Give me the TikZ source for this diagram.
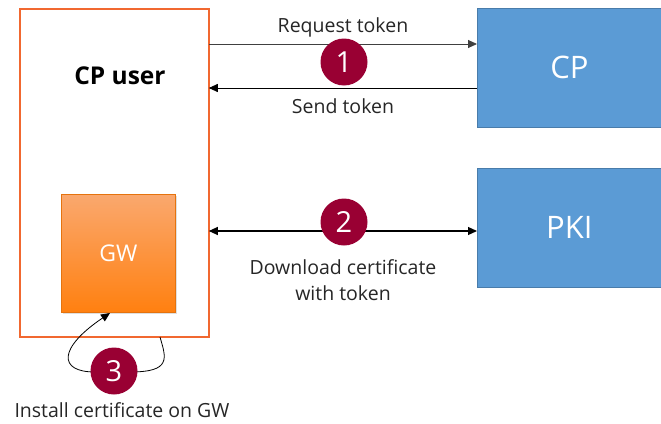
\documentclass[tikz,border=0pt]{standalone}
\usepackage{fontspec}
\setmainfont{Open Sans}
\usetikzlibrary{arrows.meta,shadows}
\definecolor{cpOrange}{RGB}{241,104,48}
\definecolor{gwTop}{RGB}{250,168,110}
\definecolor{gwBot}{RGB}{255,128,16}
\definecolor{cpBlue}{RGB}{91,155,213}
\definecolor{stepRed}{RGB}{153,0,51}
\definecolor{txt}{RGB}{38,38,38}
\tikzset{
  bluebox/.style={draw=cpBlue!80!black, line width=0.8pt, fill=cpBlue, minimum width=184pt, minimum height=119pt, text=white, font=\fontsize{31}{33}\selectfont},
  stepmark/.style={circle, fill=stepRed, minimum size=47pt, inner sep=0pt, text=white, font=\fontsize{29}{30}\selectfont},
  lbl/.style={text=txt, font=\fontsize{19.5}{26}\selectfont, align=center},
  flow/.style={line width=0.9pt, -{Triangle[length=9pt,width=8pt]}},
}
\begin{document}
\begin{tikzpicture}[x=1pt,y=-1pt]
\useasboundingbox (0,0) rectangle (661,423);
% CP user frame
\node[draw=cpOrange, line width=1.6pt, minimum width=189pt, minimum height=328pt, anchor=north west, inner sep=0pt] (user) at (19,8) {};
\node[font=\bfseries\fontsize{24.5}{28}\selectfont, text=black] (usertitle) at (120,76) {CP user};
% GW box
\node[draw=gwBot!90!black, line width=0.6pt, top color=gwTop, bottom color=gwBot, minimum width=114pt, minimum height=118pt, anchor=north west, inner sep=0pt, text=white, font=\fontsize{23}{26}\selectfont, drop shadow={opacity=0.25, shadow xshift=1.5pt, shadow yshift=-2pt}] (gw) at (61,194) {GW};
% CP and PKI
\node[bluebox, anchor=north west] (cp) at (477,8) {CP};
\node[bluebox, anchor=north west] (pki) at (477,168) {PKI};
% Step 1
\coordinate (r1a) at (208.8,44);
\coordinate (r1b) at (477,44);
\coordinate (s1a) at (477,88);
\coordinate (s1b) at (208.8,88);
\draw[flow, draw=black!75] (r1a) -- (r1b);
\draw[flow] (s1a) -- (s1b);
\node[lbl] (req) at (343,27) {Request token};
\node[lbl] (send) at (343,106) {Send token};
\node[stepmark] (n1) at (344,62) {1};
% Step 2
\coordinate (d2a) at (208.8,231);
\coordinate (d2b) at (477,231);
\draw[line width=1.2pt, {Triangle[length=9pt,width=8pt]}-{Triangle[length=9pt,width=8pt]}] (d2a) -- (d2b);
\node[stepmark] (n2) at (344,222) {2};
\node[lbl] (dl) at (343,280) {Download certificate\\with token};
% Step 3
\coordinate (l0) at (160,337);
\coordinate (l3) at (110,313);
\draw[line width=0.8pt, -{Triangle[length=9pt,width=8pt]}] (l0) .. controls (166,358) and (172,372) .. (130,372)
   -- (95,372) .. controls (58,372) and (58,348) .. (l3);
\node[stepmark] (n3) at (114,371) {3};
\node[lbl] (inst) at (122,410) {Install certificate on GW};
\end{tikzpicture}
\end{document}
